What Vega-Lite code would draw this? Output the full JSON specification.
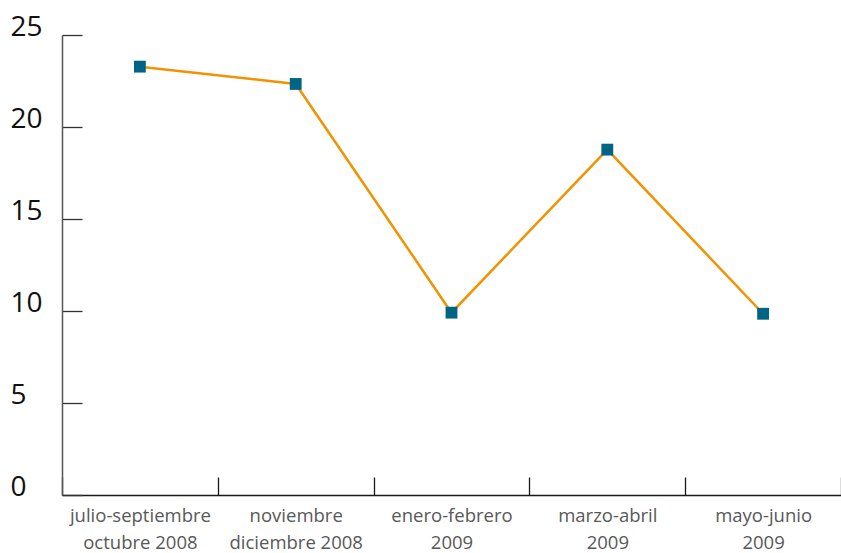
{
  "$schema": "https://vega.github.io/schema/vega-lite/v6.json",
  "width": 779,
  "height": 460,
  "autosize": {"type": "none"},
  "padding": {"left": 62, "top": 35, "right": 0, "bottom": 58},
  "background": "white",
  "config": {"view": {"stroke": null}, "font": "Open Sans"},
  "data": {
    "values": [
      {"periodo": "julio-septiembre|octubre 2008", "valor": 23.28},
      {"periodo": "noviembre|diciembre 2008", "valor": 22.34},
      {"periodo": "enero-febrero|2009", "valor": 9.91},
      {"periodo": "marzo-abril|2009", "valor": 18.77},
      {"periodo": "mayo-junio|2009", "valor": 9.85}
    ]
  },
  "encoding": {
    "x": {
      "field": "periodo",
      "type": "ordinal",
      "sort": null,
      "scale": {"type": "band", "paddingInner": 0, "paddingOuter": 0},
      "axis": {
        "title": null,
        "labelAngle": 0,
        "labelExpr": "split(datum.label, '|')",
        "labelFont": "Open Sans",
        "labelFontSize": 18.5,
        "labelColor": "#58585a",
        "labelLineHeight": 27,
        "labelPadding": 29,
        "labelBaseline": "top",
        "tickBand": "extent",
        "tickSize": -18,
        "tickColor": "#1a1a1a",
        "tickWidth": 1.3,
        "domainColor": "#1a1a1a",
        "domainWidth": 1.3,
        "grid": false
      }
    },
    "y": {
      "field": "valor",
      "type": "quantitative",
      "scale": {"domain": [0, 25], "nice": false, "zero": true},
      "axis": {
        "title": null,
        "values": [0, 5, 10, 15, 20, 25],
        "labelFont": "Open Sans",
        "labelFontSize": 28,
        "labelColor": "#111111",
        "labelAlign": "left",
        "labelBaseline": "alphabetic",
        "labelPadding": 72,
        "tickSize": -20,
        "tickColor": "#333333",
        "tickWidth": 1.3,
        "domainColor": "#555555",
        "domainWidth": 1.5,
        "grid": false
      }
    }
  },
  "layer": [
    {"mark": {"type": "line", "color": "#f39200", "strokeWidth": 2.5}},
    {"mark": {"type": "point", "shape": "square", "filled": true, "opacity": 1, "color": "#006484", "size": 140}}
  ]
}
